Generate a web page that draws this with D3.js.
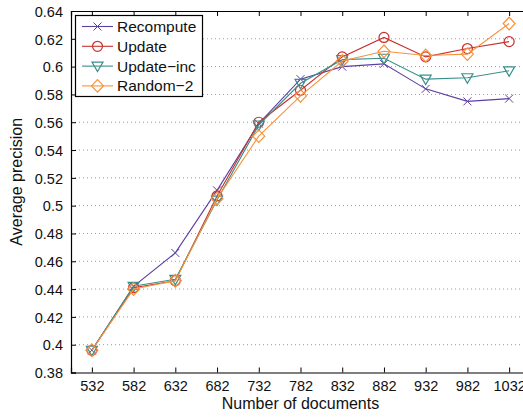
<!DOCTYPE html>
<html>
<head>
<meta charset="utf-8">
<script src="https://cdn.jsdelivr.net/npm/d3@7"></script>
<style>
  html, body { margin: 0; padding: 0; background: #fff; }
  svg { display: block; font-family: "Liberation Sans", Arial, Helvetica, sans-serif; }
</style>
</head>
<body>
<svg id="chart" width="523" height="419"></svg>
<script>
// Number of documents on the x axis
const docs = [532, 582, 632, 682, 732, 782, 832, 882, 932, 982, 1032];

// Average precision per method
const recompute = [0.396, 0.442, 0.466, 0.511, 0.559, 0.591, 0.600, 0.602, 0.584, 0.575, 0.577];
const update    = [0.396, 0.441, 0.446, 0.507, 0.560, 0.583, 0.607, 0.621, 0.607, 0.613, 0.618];
const updateInc = [0.396, 0.442, 0.447, 0.504, 0.558, 0.588, 0.605, 0.606, 0.591, 0.592, 0.597];
const random2   = [0.396, 0.440, 0.446, 0.505, 0.550, 0.579, 0.604, 0.611, 0.608, 0.609, 0.631];

const yTicks = [0.38, 0.4, 0.42, 0.44, 0.46, 0.48, 0.5, 0.52, 0.54, 0.56, 0.58, 0.6, 0.62, 0.64];

const series = [
  { name: "Recompute",  values: recompute, color: "#5b3fa3", marker: "x" },
  { name: "Update",     values: update,    color: "#c9302c", marker: "circle" },
  { name: "Update\u2212inc", values: updateInc, color: "#3a8f8a", marker: "triangle" },
  { name: "Random\u22122",   values: random2,   color: "#f7923a", marker: "diamond" }
];

const svg = d3.select("#chart");
const plotL = 71, plotR = 530, plotT = 11, plotB = 372.5;

const x = d3.scaleLinear().domain([507, 1057]).range([plotL, plotR]);
const y = d3.scaleLinear().domain([0.38, 0.64]).range([plotB, plotT]);

const fmt = v => d3.format(".2f")(v).replace(/0$/, "");

// horizontal dotted grid
svg.append("g")
  .selectAll("line")
  .data(yTicks.filter(t => t > 0.38 && t < 0.64))
  .join("line")
  .attr("x1", plotL).attr("x2", plotR)
  .attr("y1", d => y(d)).attr("y2", d => y(d))
  .attr("stroke", "#9a9a9a")
  .attr("stroke-width", 1)
  .attr("stroke-dasharray", "1,3");

// axes with inward ticks
const xAxis = d3.axisBottom(x).tickValues(docs).tickSize(-5).tickPadding(8).tickFormat(d3.format("d"));
const gx = svg.append("g").attr("transform", `translate(0,${plotB})`).call(xAxis);
const xTop = d3.axisTop(x).tickValues(docs).tickSize(-5).tickFormat("");
const gxt = svg.append("g").attr("transform", `translate(0,${plotT})`).call(xTop);
const yAxis = d3.axisLeft(y).tickValues(yTicks).tickSize(-5).tickPadding(8).tickFormat(fmt);
const gy = svg.append("g").attr("transform", `translate(${plotL},0)`).call(yAxis);

[gx, gxt, gy].forEach(g => {
  g.select(".domain").attr("stroke", "#000").attr("stroke-width", 1.2);
  g.selectAll(".tick line").attr("stroke", "#000");
  g.selectAll(".tick text").attr("fill", "#111").style("font-size", "14.5px")
    .style("font-family", "\"Liberation Sans\", Arial, sans-serif");
});
gy.selectAll(".tick text").attr("dy", "0.36em");

// lines
const line = d3.line().x((d, i) => x(docs[i])).y(d => y(d));

function drawMarker(g, type, color) {
  if (type === "x") {
    const s = 4;
    g.append("path").attr("d", `M${-s},${-s}L${s},${s}M${-s},${s}L${s},${-s}`)
      .attr("stroke", color).attr("stroke-width", 1).attr("fill", "none");
  } else if (type === "circle") {
    g.append("circle").attr("r", 5).attr("fill", "none").attr("stroke", color).attr("stroke-width", 1.2);
  } else if (type === "triangle") {
    g.append("path").attr("d", "M-5.5,-4L5.5,-4L0,5.5Z").attr("fill", "none")
      .attr("stroke", color).attr("stroke-width", 1.2);
  } else if (type === "diamond") {
    g.append("path").attr("d", "M0,-6.3L6,0L0,6.3L-6,0Z").attr("fill", "none")
      .attr("stroke", color).attr("stroke-width", 1.2);
  }
}

series.forEach(s => {
  svg.append("path").datum(s.values)
    .attr("d", line)
    .attr("fill", "none")
    .attr("stroke", s.color)
    .attr("stroke-width", 1.1);
  s.values.forEach((v, i) => {
    const g = svg.append("g").attr("transform", `translate(${x(docs[i])},${y(v)})`);
    drawMarker(g, s.marker, s.color);
  });
});

// legend
const lg = svg.append("g");
lg.append("rect").attr("x", 75.5).attr("y", 15.5).attr("width", 127).attr("height", 81)
  .attr("fill", "#fff").attr("stroke", "#000").attr("stroke-width", 1.2);
series.forEach((s, i) => {
  const yy = 26.5 + i * 19.8;
  lg.append("line").attr("x1", 82).attr("x2", 113).attr("y1", yy).attr("y2", yy)
    .attr("stroke", s.color).attr("stroke-width", 1.1);
  const g = lg.append("g").attr("transform", `translate(97.5,${yy})`);
  drawMarker(g, s.marker, s.color);
  lg.append("text").attr("x", 117).attr("y", yy).attr("dy", "0.36em")
    .style("font-size", "15.5px").attr("fill", "#111").text(s.name);
});

// axis titles
svg.append("text").attr("x", (plotL + plotR) / 2).attr("y", 409)
  .attr("text-anchor", "middle").style("font-size", "16px").attr("fill", "#111")
  .text("Number of documents");
svg.append("text")
  .attr("transform", `translate(22,${(plotT + plotB) / 2 - 10}) rotate(-90)`)
  .attr("text-anchor", "middle").style("font-size", "16px").attr("fill", "#111")
  .text("Average precision");
</script>
</body>
</html>
